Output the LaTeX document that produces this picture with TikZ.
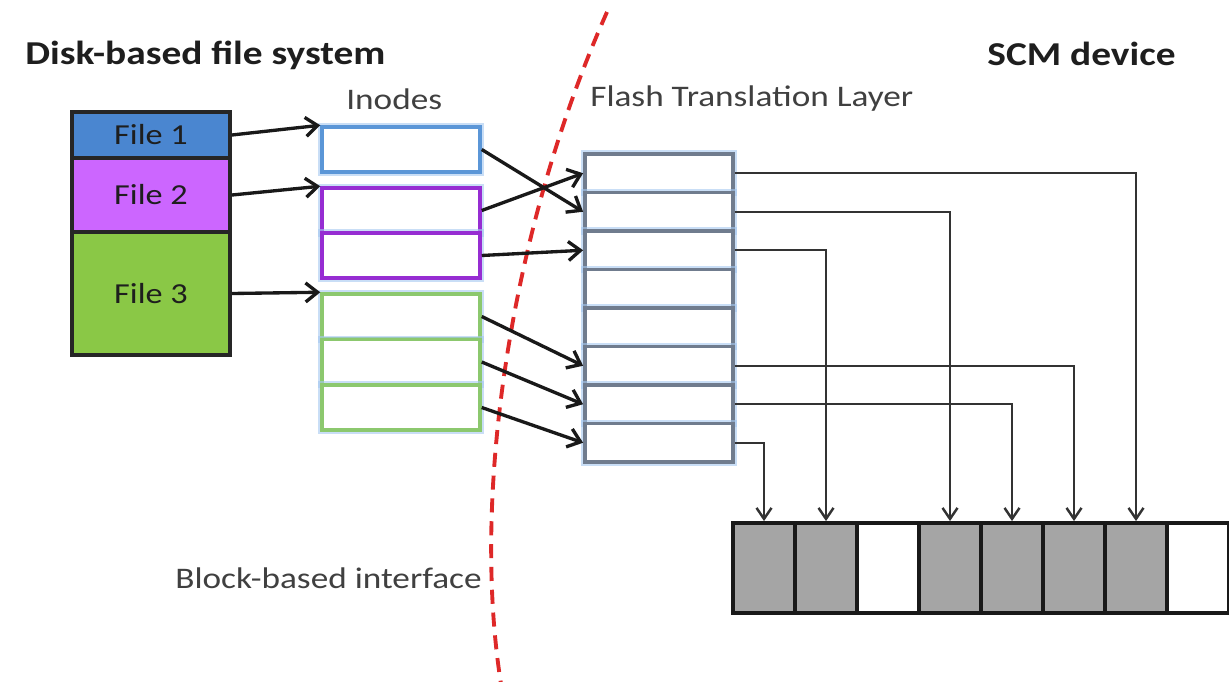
\documentclass[tikz,border=0pt]{standalone}
\usepackage{fontspec}
\usepackage{graphicx}
\setmainfont{Carlito}
\usetikzlibrary{arrows.meta}
\definecolor{fileblue}{RGB}{74,134,208}
\definecolor{filepurple}{RGB}{204,102,255}
\definecolor{filegreen}{RGB}{138,200,70}
\definecolor{inblue}{RGB}{91,150,215}
\definecolor{inpurple}{RGB}{150,45,210}
\definecolor{ingreen}{RGB}{140,200,110}
\definecolor{ftlgray}{RGB}{112,124,142}
\definecolor{halo}{RGB}{165,200,240}
\definecolor{cutred}{RGB}{222,40,40}
\definecolor{blockgray}{RGB}{165,165,165}
\definecolor{txt}{RGB}{30,30,30}
\newcommand{\wtxt}[1]{\scalebox{1.18}[1]{#1}}
\tikzset{
  filebox/.style={draw=black!85, line width=2.3pt, minimum width=3.16cm, inner sep=0pt, font=\fontsize{16.5}{19}\selectfont, text=txt},
  inode/.style={draw=#1, line width=2pt, fill=white, minimum width=3.16cm, minimum height=0.9cm, inner sep=0pt,
    preaction={draw=halo, line width=4.5pt, opacity=0.6}},
  ftlrow/.style={draw=ftlgray, line width=2.2pt, fill=white, minimum width=2.96cm, minimum height=0.77cm, inner sep=0pt,
    preaction={draw=halo, line width=4.5pt, opacity=0.6}},
  blk/.style={draw=black!90, line width=2.2pt, fill=#1, minimum width=1.24cm, minimum height=1.8cm, inner sep=0pt},
  link/.style={draw=black!90, line width=1.9pt, -{Straight Barb[length=2.4mm,width=3.8mm,line width=1.9pt]}},
  wire/.style={draw=black!80, line width=1.4pt, -{Straight Barb[length=2.2mm,width=3mm,line width=1.4pt]}},
  title/.style={font=\fontsize{19}{22}\selectfont\bfseries, text=txt, inner sep=0pt, anchor=west},
  label/.style={font=\fontsize{17}{20}\selectfont, text=txt!85!white, inner sep=0pt, anchor=west},
}
\begin{document}
\begin{tikzpicture}[x=0.02cm,y=-0.02cm]
\clip (0,0) rectangle (1229,682);
\fill[white] (0,0) rectangle (1229,682);

% titles
\node[title] (tdisk) at (25,55) {\wtxt{Disk-based file system}};
\node[title] (tscm) at (987,54) {\wtxt{SCM device}};
\node[label] (tino) at (346,99) {\wtxt{Inodes}};
\node[label] (tftl) at (590,99) {\wtxt{Flash Translation Layer}};
\node[label] (tblk) at (175,578) {\wtxt{Block-based interface}};

% files
\node[filebox, fill=fileblue, minimum height=0.92cm] (f1) at (151,135) {\wtxt{File 1}};
\node[filebox, fill=filepurple, minimum height=1.48cm] (f2) at (151,195) {\wtxt{File 2}};
\node[filebox, fill=filegreen, minimum height=2.46cm] (f3) at (151,293.5) {\wtxt{File 3}};

% inodes
\node[inode=inblue] (i1) at (401,149.5) {};
\node[inode=inpurple] (i2) at (401,210.5) {};
\node[inode=inpurple] (i3) at (401,255.5) {};
\node[inode=ingreen] (i4) at (401,316.5) {};
\node[inode=ingreen] (i5) at (401,362) {};
\node[inode=ingreen] (i6) at (401,407.5) {};

% FTL rows
\foreach \k in {1,...,8} {
  \node[ftlrow] (r\k) at (659,{154+38.5*(\k-0.5)}) {};
}

% storage blocks
\node[blk=blockgray] (b1) at (764,568) {};
\node[blk=blockgray] (b2) at (826,568) {};
\node[blk=white] (b3) at (888,568) {};
\node[blk=blockgray] (b4) at (950,568) {};
\node[blk=blockgray] (b5) at (1012,568) {};
\node[blk=blockgray] (b6) at (1074,568) {};
\node[blk=blockgray] (b7) at (1136,568) {};
\node[blk=white] (b8) at (1198,568) {};

% red dashed boundary
\draw[cutred, line width=2.2pt, dash pattern=on 8pt off 5pt] (607,12) .. controls (510,230) and (470,500) .. (502,690);

% file -> inode
\draw[link] (f1.east) -- (i1.north west);
\draw[link] (f2.east) -- (i2.north west);
\draw[link] (f3.east) -- (i4.north west);

% inode -> FTL
\draw[link] (i1.east) -- (r2.west);
\draw[link] (i2.east) -- (r1.west);
\draw[link] (i3.east) -- (r3.west);
\draw[link] (i4.east) -- (r6.west);
\draw[link] (i5.east) -- (r7.west);
\draw[link] (i6.east) -- (r8.west);

% FTL -> blocks
\draw[wire] (r1.east) -| (b7.north);
\draw[wire] (r2.east) -| (b4.north);
\draw[wire] (r3.east) -| (b2.north);
\draw[wire] (r6.east) -| (b6.north);
\draw[wire] (r7.east) -| (b5.north);
\draw[wire] (r8.east) -| (b1.north);
\end{tikzpicture}
\end{document}
